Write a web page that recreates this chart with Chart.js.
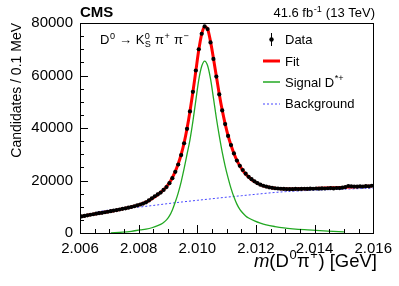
<!DOCTYPE html>
<html>
<head>
<meta charset="utf-8">
<script src="https://cdn.jsdelivr.net/npm/chart.js@4.4.0/dist/chart.umd.min.js"></script>
<style>
  html, body { margin: 0; padding: 0; background: #fff; }
  #wrap { position: relative; width: 399px; height: 286px; }
</style>
</head>
<body>
<div id="wrap"><canvas id="chart" width="399" height="286"></canvas></div>
<script>
// binning of the histogram (0.1 MeV bins)
var binLow = 2.006;
var binWidth = 0.0001;

// candidates per bin
var counts = [
  6300, 6500, 6750, 6950, 7150, 7350, 7550, 7700, 7900, 8100,
  8300, 8550, 8750, 8950, 9200, 9400, 9650, 9900, 10200, 10500,
  10850, 11200, 11700, 12400, 13200, 14000, 14700, 15400, 16400, 17500,
  19000, 20900, 23300, 26100, 29700, 34200, 39700, 46300, 53800, 61900,
  70000, 75900, 78700, 77700, 72600, 66300, 59600, 52800, 46700, 41500,
  37000, 33500, 30300, 27600, 25600, 24000, 22600, 21400, 20500, 19700,
  19000, 18400, 18000, 17700, 17400, 17200, 17050, 16950, 16850, 16800,
  16750, 16750, 16700, 16800, 16750, 16800, 16850, 16800, 16900, 16850,
  16950, 16900, 17000, 16950, 17050, 17100, 17000, 17150, 17100, 17250,
  17500, 17900, 17800, 17700, 17650, 17750, 17700, 17850, 17800, 18000
];

// total fit at the bin centres
var fitValues = [
  6300, 6520, 6740, 6950, 7150, 7350, 7540, 7720, 7900, 8090,
  8290, 8500, 8720, 8950, 9180, 9420, 9670, 9930, 10210, 10520,
  10870, 11270, 11750, 12330, 13030, 13800, 14600, 15450, 16450, 17650,
  19150, 21050, 23450, 26350, 29900, 34300, 39800, 46300, 53700, 61700,
  69700, 75800, 78600, 77800, 73000, 66600, 59700, 52900, 46800, 41600,
  37100, 33400, 30300, 27700, 25600, 23900, 22500, 21350, 20400, 19600,
  18950, 18400, 17980, 17650, 17400, 17200, 17050, 16950, 16880, 16830,
  16800, 16790, 16790, 16800, 16820, 16840, 16870, 16900, 16930, 16960,
  17000, 17040, 17080, 17120, 17160, 17200, 17240, 17280, 17330, 17380,
  17430, 17480, 17530, 17580, 17630, 17680, 17730, 17780, 17830, 17880
];

// signal D*+ component
var signalMass = [
  2.00705, 2.00745, 2.00775, 2.00805, 2.00825, 2.00845, 2.00865, 2.00875, 2.00885, 2.00895,
  2.00905, 2.00915, 2.00925, 2.00935, 2.00945, 2.00955, 2.00965, 2.00975, 2.00985, 2.00995,
  2.01005, 2.01015, 2.01025, 2.01035, 2.01045, 2.01055, 2.01065, 2.01075, 2.01085, 2.01095,
  2.01105, 2.01115, 2.01125, 2.01135, 2.01145, 2.01155, 2.01165, 2.01175, 2.01195, 2.01215,
  2.01235, 2.01265, 2.01295, 2.01325, 2.01365, 2.01405, 2.01445, 2.01500
];
var signalValues = [
  60, 300, 650, 1200, 1500, 2000, 2800, 3300, 4000, 5000,
  6500, 8800, 11800, 15300, 19500, 24500, 30000, 35500, 42500, 50500,
  58300, 63500, 65500, 63800, 58800, 51500, 43800, 37000, 30800, 25500,
  21000, 17000, 13700, 11000, 9000, 7600, 6500, 5700, 4600, 3750,
  3100, 2450, 1950, 1600, 1250, 1000, 750, 400
];

// combinatorial background component
var bkgMass = [
  2.0066, 2.0070, 2.0075, 2.0080, 2.0085, 2.0090, 2.0095, 2.0100, 2.0105, 2.0110,
  2.0115, 2.0120, 2.0125, 2.0130, 2.0135, 2.0140, 2.0145, 2.0150, 2.0155, 2.0160
];
var bkgValues = [
  8100, 8750, 9300, 9850, 10500, 11200, 11850, 12450, 13050, 13650,
  14200, 14750, 15300, 15750, 16050, 16300, 16500, 16700, 16900, 17100
];

var FONT = '"Liberation Sans", Arial, Helvetica, sans-serif';
var RED = '#ff0000';
var GREEN = '#22a822';
var BLUE = '#4646ff';

Chart.defaults.font.family = FONT;
Chart.defaults.color = '#000';

function toPoints(xs, ys) {
	var pts = [];
	for (var i = 0; i < ys.length; i++) {
		pts.push({x: xs[i], y: ys[i]});
	}
	return pts;
}

var binCentres = counts.map(function (c, i) {
	return binLow + (i + 0.5) * binWidth;
});

// draws a run of text with superscripts / subscripts
function drawRich(ctx, parts, x, y, size, align) {
	var small = size * 0.7;
	var segs = parts.map(function (p) {
		var w;
		if (p.t !== undefined) {
			ctx.font = (p.it ? 'italic ' : '') + (p.b ? 'bold ' : '') + size + 'px ' + FONT;
			w = ctx.measureText(p.t).width;
		} else {
			ctx.font = small + 'px ' + FONT;
			w = Math.max(p.sup ? ctx.measureText(p.sup).width : 0, p.sub ? ctx.measureText(p.sub).width : 0) + 1;
		}
		return {p: p, w: w};
	});
	var total = segs.reduce(function (a, s) { return a + s.w; }, 0);
	var cx = align === 'right' ? x - total : x;
	ctx.textAlign = 'left';
	ctx.textBaseline = 'alphabetic';
	ctx.fillStyle = '#000';
	segs.forEach(function (s) {
		var p = s.p;
		if (p.t !== undefined) {
			ctx.font = (p.it ? 'italic ' : '') + (p.b ? 'bold ' : '') + size + 'px ' + FONT;
			ctx.fillText(p.t, cx, y);
		} else {
			ctx.font = small + 'px ' + FONT;
			if (p.sup) ctx.fillText(p.sup, cx + 0.5, y - size * 0.42);
			if (p.sub) ctx.fillText(p.sub, cx + 0.5, y + size * 0.22);
		}
		cx += s.w;
	});
}

var decorations = {
	id: 'decorations',
	afterDraw: function (chart) {
		var ctx = chart.ctx,
			area = chart.chartArea,
			xs = chart.scales.x,
			ys = chart.scales.y;

		ctx.save();

		// frame
		ctx.strokeStyle = '#000';
		ctx.lineWidth = 1;
		ctx.strokeRect(Math.round(area.left) + 0.5, Math.round(area.top) + 0.5,
			Math.round(area.right - area.left), Math.round(area.bottom - area.top));

		// inside ticks
		ctx.beginPath();
		for (var v = 0; v <= 80000; v += 5000) {
			var py = Math.round(ys.getPixelForValue(v)) + 0.5;
			var len = v % 20000 === 0 ? 8 : 4;
			ctx.moveTo(area.left, py);
			ctx.lineTo(area.left + len, py);
		}
		for (var k = 0; k <= 20; k++) {
			var px = Math.round(xs.getPixelForValue(binLow + k * 0.0005)) + 0.5;
			var l = k % 4 === 0 ? 8 : 4;
			ctx.moveTo(px, area.bottom);
			ctx.lineTo(px, area.bottom - l);
		}
		ctx.stroke();

		// header
		drawRich(ctx, [{t: 'CMS', b: true}], 80, 17, 15, 'left');
		drawRich(ctx, [{t: '41.6 fb'}, {sup: '-1'}, {t: ' (13 TeV)'}], 375, 17, 13, 'right');

		// decay channel
		drawRich(ctx, [{t: 'D'}, {sup: '0'}, {t: ' \u2192 K'}, {sup: '0', sub: 'S'},
			{t: ' \u03c0'}, {sup: '+'}, {t: ' \u03c0'}, {sup: '\u2212'}], 100, 44, 13, 'left');

		// x title
		drawRich(ctx, [{t: 'm', it: true}, {t: '(D'}, {sup: '0'}, {t: '\u03c0'}, {sup: '+'},
			{t: ') [GeV]'}], 377, 267, 18.5, 'right');

		// legend
		var lx0 = 263, lx1 = 280, tx = 285;
		var rows = [39.5, 61, 82, 103.5];
		ctx.strokeStyle = '#000';
		ctx.lineWidth = 1;
		ctx.beginPath();
		ctx.moveTo(271.5, rows[0] - 6.5);
		ctx.lineTo(271.5, rows[0] + 6.5);
		ctx.stroke();
		ctx.fillStyle = '#000';
		ctx.beginPath();
		ctx.arc(271.5, rows[0], 2.2, 0, Math.PI * 2);
		ctx.fill();

		ctx.strokeStyle = RED;
		ctx.lineWidth = 3;
		ctx.beginPath();
		ctx.moveTo(lx0, rows[1]);
		ctx.lineTo(lx1, rows[1]);
		ctx.stroke();

		ctx.strokeStyle = GREEN;
		ctx.lineWidth = 1.5;
		ctx.beginPath();
		ctx.moveTo(lx0, rows[2]);
		ctx.lineTo(lx1, rows[2]);
		ctx.stroke();

		ctx.strokeStyle = BLUE;
		ctx.lineWidth = 1;
		ctx.setLineDash([2, 2]);
		ctx.beginPath();
		ctx.moveTo(lx0, rows[3] + 0.5);
		ctx.lineTo(lx1, rows[3] + 0.5);
		ctx.stroke();
		ctx.setLineDash([]);

		drawRich(ctx, [{t: 'Data'}], tx, rows[0] + 4.5, 13, 'left');
		drawRich(ctx, [{t: 'Fit'}], tx, rows[1] + 4.5, 13, 'left');
		drawRich(ctx, [{t: 'Signal D'}, {sup: '*+'}], tx, rows[2] + 4.5, 13, 'left');
		drawRich(ctx, [{t: 'Background'}], tx, rows[3] + 4.5, 13, 'left');

		ctx.restore();
	}
};

var chart = new Chart(document.getElementById('chart'), {
	type: 'line',
	data: {
		datasets: [{
			label: 'Data',
			data: toPoints(binCentres, counts),
			showLine: false,
			pointRadius: 2.1,
			pointBorderWidth: 0,
			pointBackgroundColor: '#000',
			order: 0
		}, {
			label: 'Fit',
			data: toPoints(binCentres, fitValues),
			borderColor: RED,
			borderWidth: 3,
			pointRadius: 0,
			cubicInterpolationMode: 'monotone',
			fill: false,
			order: 1
		}, {
			label: 'Signal D*+',
			data: toPoints(signalMass, signalValues),
			borderColor: GREEN,
			borderWidth: 1.3,
			pointRadius: 0,
			cubicInterpolationMode: 'monotone',
			fill: false,
			order: 2
		}, {
			label: 'Background',
			data: toPoints(bkgMass, bkgValues),
			borderColor: BLUE,
			borderWidth: 1,
			borderDash: [2, 2],
			pointRadius: 0,
			cubicInterpolationMode: 'monotone',
			fill: false,
			order: 3
		}]
	},
	options: {
		responsive: false,
		animation: false,
		devicePixelRatio: 1,
		layout: {padding: {left: 0, right: 24, top: 23, bottom: 0}},
		scales: {
			x: {
				type: 'linear',
				min: 2.006,
				max: 2.016,
				grid: {display: false, drawTicks: false},
				border: {display: false},
				ticks: {
					stepSize: 0.002,
					autoSkip: false,
					maxRotation: 0,
					padding: 7,
					font: {size: 15},
					color: '#000',
					callback: function (v) { return Number(v).toFixed(3); }
				},
				afterFit: function (s) { s.height = 53; }
			},
			y: {
				min: 0,
				max: 80000,
				grid: {display: false, drawTicks: false},
				border: {display: false},
				ticks: {
					stepSize: 20000,
					padding: 7,
					font: {size: 15},
					color: '#000',
					callback: function (v) { return String(v); }
				},
				title: {
					display: true,
					text: 'Candidates / 0.1 MeV',
					align: 'end',
					font: {size: 14},
					color: '#000',
					padding: {top: 9, bottom: 0}
				},
				afterFit: function (s) { s.width = 80; }
			}
		},
		plugins: {
			legend: {display: false},
			tooltip: {enabled: false}
		}
	},
	plugins: [decorations]
});
</script>
</body>
</html>
